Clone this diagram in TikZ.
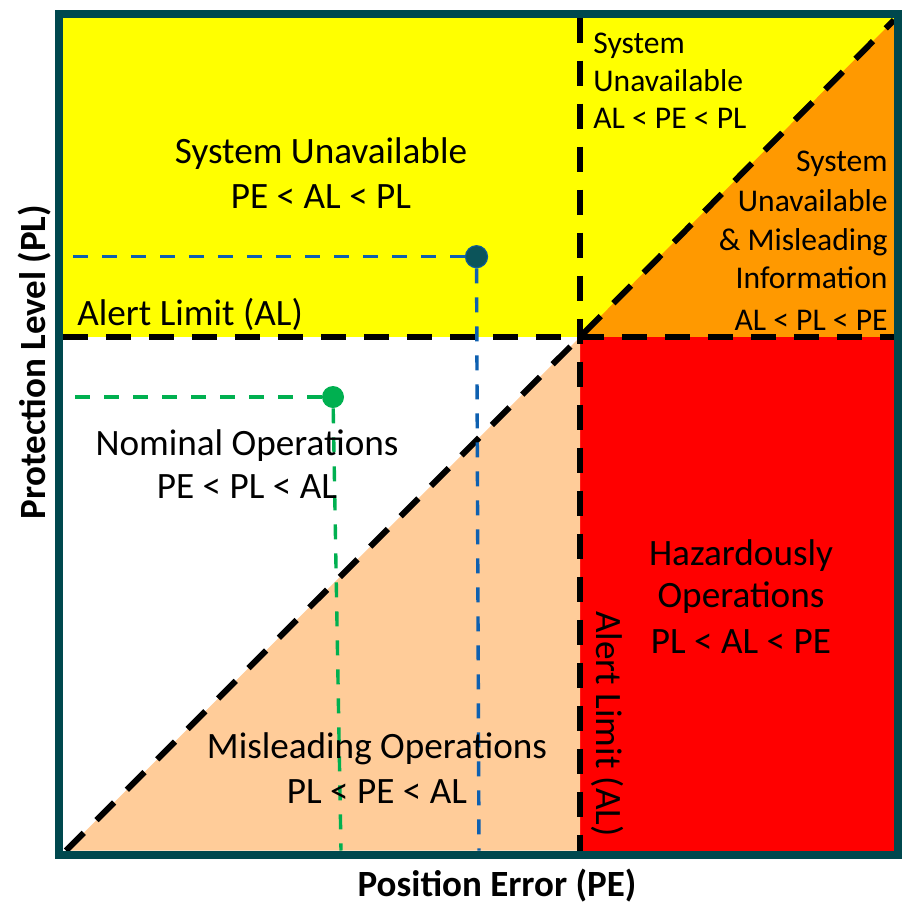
\documentclass[tikz,border=0pt]{standalone}
\usepackage{fontspec}
\setmainfont{Carlito}
\definecolor{frameteal}{RGB}{0,72,78}
\definecolor{ylw}{RGB}{255,255,0}
\definecolor{orng}{RGB}{255,153,0}
\definecolor{redz}{RGB}{255,0,0}
\definecolor{peach}{RGB}{255,204,153}
\definecolor{bluel}{RGB}{14,96,176}
\definecolor{greenl}{RGB}{0,176,80}
\definecolor{dotteal}{RGB}{12,84,90}
\tikzset{
  alline/.style={line width=3pt, dash pattern=on 12.5pt off 9pt},
  refline/.style={line width=1.7pt, dash pattern=on 7.5pt off 7pt},
  bigtxt/.style={font=\fontsize{18.6}{22}\selectfont, inner sep=0pt, anchor=base},
  bigleft/.style={bigtxt, anchor=base west},
  smalltxt/.style={font=\fontsize{15.8}{19}\selectfont, inner sep=0pt},
  axistxt/.style={font=\bfseries\fontsize{18.5}{22}\selectfont, inner sep=0pt, anchor=base},
  dotnode/.style={circle, inner sep=0pt, minimum size=11pt}
}
\begin{document}
\begin{tikzpicture}[x=0.5pt,y=-0.5pt]
\useasboundingbox[fill=white] (0,0) rectangle (901,905);
% key coordinates
\coordinate (tl) at (63,17.5);
\coordinate (br) at (894,850.5);
\coordinate (alx) at (580,337);
\coordinate (altop) at (580,17.5);
\coordinate (albot) at (580,850.5);
\coordinate (alleft) at (63,337);
\coordinate (alright) at (894,337);
\coordinate (dlow) at (66,850.5);
\coordinate (dhigh) at (894,20);
% regions
\fill[ylw] (tl) rectangle (alright);
\fill[orng] (alx) -- (alright) -- (894,17.5) -- (dhigh) -- cycle;
\fill[redz] (alx) rectangle (br);
\fill[peach] (dlow) -- (alx) -- (albot) -- cycle;
% alert limit and diagonal lines
\draw[alline] (alleft) -- (alright);
\draw[alline] (altop) -- (albot);
\draw[alline] (dlow) -- (alx) -- (dhigh);
% sample points
\node[dotnode, fill=dotteal, draw=bluel!70!dotteal, line width=0.6pt] (bdot) at (476.5,256.7) {};
\node[dotnode, fill=greenl] (gdot) at (333,397) {};
\coordinate (bleft) at (63,256.7);
\coordinate (bbot) at (479,850.5);
\coordinate (gleft) at (63,397);
\coordinate (gbot) at (341,850.5);
\draw[refline, bluel] (bdot) -- (bleft);
\draw[refline, bluel] (bdot) -- (bbot);
\draw[refline, greenl] (gdot) -- (gleft);
\draw[refline, greenl] (gdot) -- (gbot);
% texts
\node[bigtxt] (su1) at (321,163.5) {System Unavailable};
\node[bigtxt] (su2) at (321,208) {PE < AL < PL};
\node[smalltxt, anchor=base west] (tr1) at (593,53) {System};
\node[smalltxt, anchor=base west] (tr2) at (593,91) {Unavailable};
\node[smalltxt, anchor=base west] (tr3) at (593,128.5) {AL < PE < PL};
\node[smalltxt, anchor=base east] (or1) at (888,171.5) {System};
\node[smalltxt, anchor=base east] (or2) at (888,211.5) {Unavailable};
\node[smalltxt, anchor=base east] (or3) at (888,250) {\& Misleading};
\node[smalltxt, anchor=base east] (or4) at (888,288.5) {Information};
\node[smalltxt, anchor=base east] (or5) at (888,330) {AL < PL < PE};
\node[bigleft] (alh) at (77,325) {Alert Limit (AL)};
\node[bigtxt] (no1) at (247,455) {Nominal Operations};
\node[bigtxt] (no2) at (247,498.3) {PE < PL < AL};
\node[bigtxt] (hz1) at (741,565) {Hazardously};
\node[bigtxt] (hz2) at (741,607) {Operations};
\node[bigtxt] (hz3) at (741,653.3) {PL < AL < PE};
\node[bigtxt] (mi1) at (377,758.3) {Misleading Operations};
\node[bigtxt] (mi2) at (377,803.3) {PL < PE < AL};
\node[bigtxt, rotate=-90] (alv) at (596,724) {Alert Limit (AL)};
\node[axistxt] (xlab) at (497,896) {Position Error (PE)};
\node[axistxt, rotate=90] (ylab) at (45,362) {Protection Level (PL)};
% frame
\draw[frameteal, line width=4pt] (59,13.5) rectangle (898,854.5);
\end{tikzpicture}
\end{document}
